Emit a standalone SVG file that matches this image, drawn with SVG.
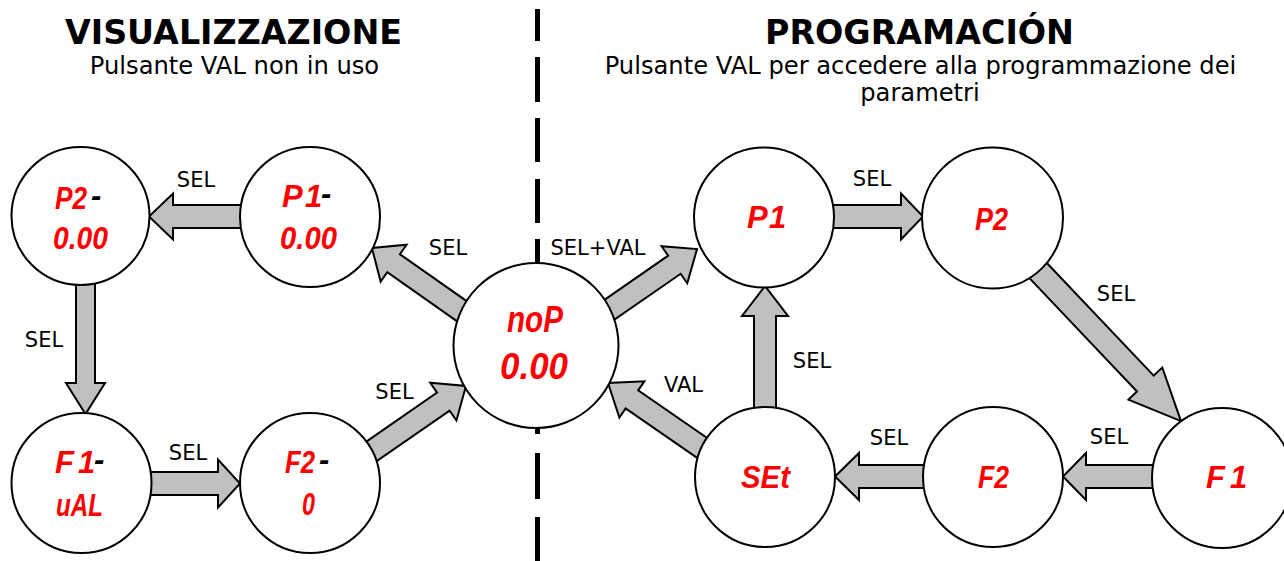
<svg xmlns="http://www.w3.org/2000/svg" width="1284" height="561" viewBox="0 0 1284 561">
  <style>
    .title { font-family: "DejaVu Sans", Verdana, sans-serif; font-weight: bold; font-size: 33.3px; fill: #000; text-anchor: middle; }
    .sub { font-family: "DejaVu Sans", Verdana, sans-serif; font-size: 24.2px; fill: #000; text-anchor: middle; }
    .lbl { font-family: "DejaVu Sans", Verdana, sans-serif; font-size: 21px; fill: #000; text-anchor: middle; }
    .divider { fill: none; stroke: #000; stroke-width: 5; }
    .arrow { fill: #c0c0c0; stroke: #000; stroke-width: 2; stroke-linejoin: miter; }
    .node { fill: #fff; stroke: #000; stroke-width: 2; }
    .seg { font-family: "Liberation Sans", Arial, sans-serif; font-weight: bold; font-style: italic; font-size: 31px; fill: #ff0000; }
    .segL { font-size: 36px; }
    .k { fill: #000; }
  </style>

  <!-- headings -->
  <g id="headings">
    <text class="title" x="233.5" y="44">VISUALIZZAZIONE</text>
    <text class="sub" x="234.5" y="74">Pulsante VAL non in uso</text>
    <text class="title" x="919.5" y="44">PROGRAMACIÓN</text>
    <text class="sub" x="920.5" y="74">Pulsante VAL per accedere alla programmazione dei</text>
    <text class="sub" x="920" y="101">parametri</text>
  </g>

  <!-- dashed separator between the two modes -->
  <path id="separator" class="divider" d="M537.5 9V41M537.5 57V102M537.5 118V162M537.5 179V223M537.5 239V275M537.5 415V434M537.5 453V499M537.5 517V561"/>

  <!-- block-arrow connectors -->
  <g id="connectors">
    <path class="arrow" d="M245,205H173V193.5L149,216.5L173,239.5V228H245Z"/>
    <path class="arrow" d="M76,280V383H66L85.5,414L105,383H95V280Z"/>
    <path class="arrow" d="M145,472H218V459.5L240,483.5L218,507.5V495H145Z"/>
    <path class="arrow" transform="translate(365.4,455.6) rotate(-34.7)" d="M0,-11H94.8V-23L122.3,0L94.8,23V11H0Z"/>
    <path class="arrow" transform="translate(466,314.1) rotate(-144.9)" d="M0,-11H88.5V-22.5L115,0L88.5,22.5V11H0Z"/>
    <path class="arrow" transform="translate(602.4,314.6) rotate(-34.7)" d="M0,-11H87.6V-22.5L115.1,0L87.6,22.5V11H0Z"/>
    <path class="arrow" d="M829,205H901V193.5L923,216.5L901,239.5V228H829Z"/>
    <path class="arrow" transform="translate(1033.5,265.7) rotate(46.5)" d="M0,-11.5H162.5V-23.3L214.2,0L162.5,23.3V11.5H0Z"/>
    <path class="arrow" d="M1160,465H1086V453L1063,476.5L1086,500V488H1160Z"/>
    <path class="arrow" d="M930,465H859V453L835,476.5L859,500V488H930Z"/>
    <path class="arrow" d="M754,412V316H742L765,286L788,316H776V412Z"/>
    <path class="arrow" transform="translate(708.1,452) rotate(-145.4)" d="M0,-11H92.6V-22L121.6,0L92.6,22V11H0Z"/>
  </g>

  <!-- connector labels -->
  <g id="labels">
    <text class="lbl" x="196" y="187">SEL</text>
    <text class="lbl" x="448" y="255">SEL</text>
    <text class="lbl" x="44" y="347">SEL</text>
    <text class="lbl" x="188" y="460">SEL</text>
    <text class="lbl" x="394.5" y="399">SEL</text>
    <text class="lbl" x="598" y="255">SEL+VAL</text>
    <text class="lbl" x="872" y="186">SEL</text>
    <text class="lbl" x="1116" y="301">SEL</text>
    <text class="lbl" x="812" y="368">SEL</text>
    <text class="lbl" x="683.5" y="392">VAL</text>
    <text class="lbl" x="889" y="445">SEL</text>
    <text class="lbl" x="1109" y="444">SEL</text>
  </g>

  <!-- display nodes, left side -->
  <g id="node-p2-view">
    <circle class="node" cx="80.5" cy="216" r="69"/>
    <text class="seg" y="209"><tspan x="55" textLength="32" lengthAdjust="spacingAndGlyphs">P2</tspan><tspan class="k" x="91" dy="-3">-</tspan></text>
    <text class="seg" x="53" y="249" textLength="55" lengthAdjust="spacingAndGlyphs">0.00</text>
  </g>
  <g id="node-p1-view">
    <circle class="node" cx="310" cy="217" r="70"/>
    <text class="seg" y="207"><tspan x="282">P</tspan><tspan x="305">1</tspan><tspan class="k" x="321" dy="-3">-</tspan></text>
    <text class="seg" x="280" y="249" textLength="57" lengthAdjust="spacingAndGlyphs">0.00</text>
  </g>
  <g id="node-nop">
    <circle class="node" cx="536" cy="345.5" r="82.5"/>
    <text class="seg segL" x="507" y="332" textLength="56" lengthAdjust="spacingAndGlyphs">noP</text>
    <text class="seg segL" x="500" y="379" textLength="68" lengthAdjust="spacingAndGlyphs">0.00</text>
  </g>
  <g id="node-f1-view">
    <circle class="node" cx="81.5" cy="483" r="70"/>
    <text class="seg" y="473"><tspan x="55">F</tspan><tspan x="78">1</tspan><tspan class="k" x="94" dy="-3">-</tspan></text>
    <text class="seg" x="56" y="516" textLength="47" lengthAdjust="spacingAndGlyphs">uAL</text>
  </g>
  <g id="node-f2-view">
    <circle class="node" cx="310" cy="483" r="70"/>
    <text class="seg" y="473"><tspan x="285" textLength="30" lengthAdjust="spacingAndGlyphs">F2</tspan><tspan class="k" x="319" dy="-3">-</tspan></text>
    <text class="seg" x="302" y="515" textLength="13" lengthAdjust="spacingAndGlyphs">0</text>
  </g>

  <!-- display nodes, right side -->
  <g id="node-p1-prog">
    <circle class="node" cx="764" cy="217.5" r="70"/>
    <text class="seg" y="228"><tspan x="747">P</tspan><tspan x="769">1</tspan></text>
  </g>
  <g id="node-p2-prog">
    <circle class="node" cx="992.5" cy="218" r="70.5"/>
    <text class="seg" x="975" y="230" textLength="33" lengthAdjust="spacingAndGlyphs">P2</text>
  </g>
  <g id="node-set">
    <circle class="node" cx="765" cy="477" r="70"/>
    <text class="seg" x="741" y="488" textLength="49" lengthAdjust="spacingAndGlyphs">SEt</text>
  </g>
  <g id="node-f2-prog">
    <circle class="node" cx="993" cy="477" r="70"/>
    <text class="seg" x="978" y="488" textLength="31" lengthAdjust="spacingAndGlyphs">F2</text>
  </g>
  <g id="node-f1-prog">
    <circle class="node" cx="1222" cy="478" r="70"/>
    <text class="seg" y="488"><tspan x="1206">F</tspan><tspan x="1230">1</tspan></text>
  </g>
</svg>
